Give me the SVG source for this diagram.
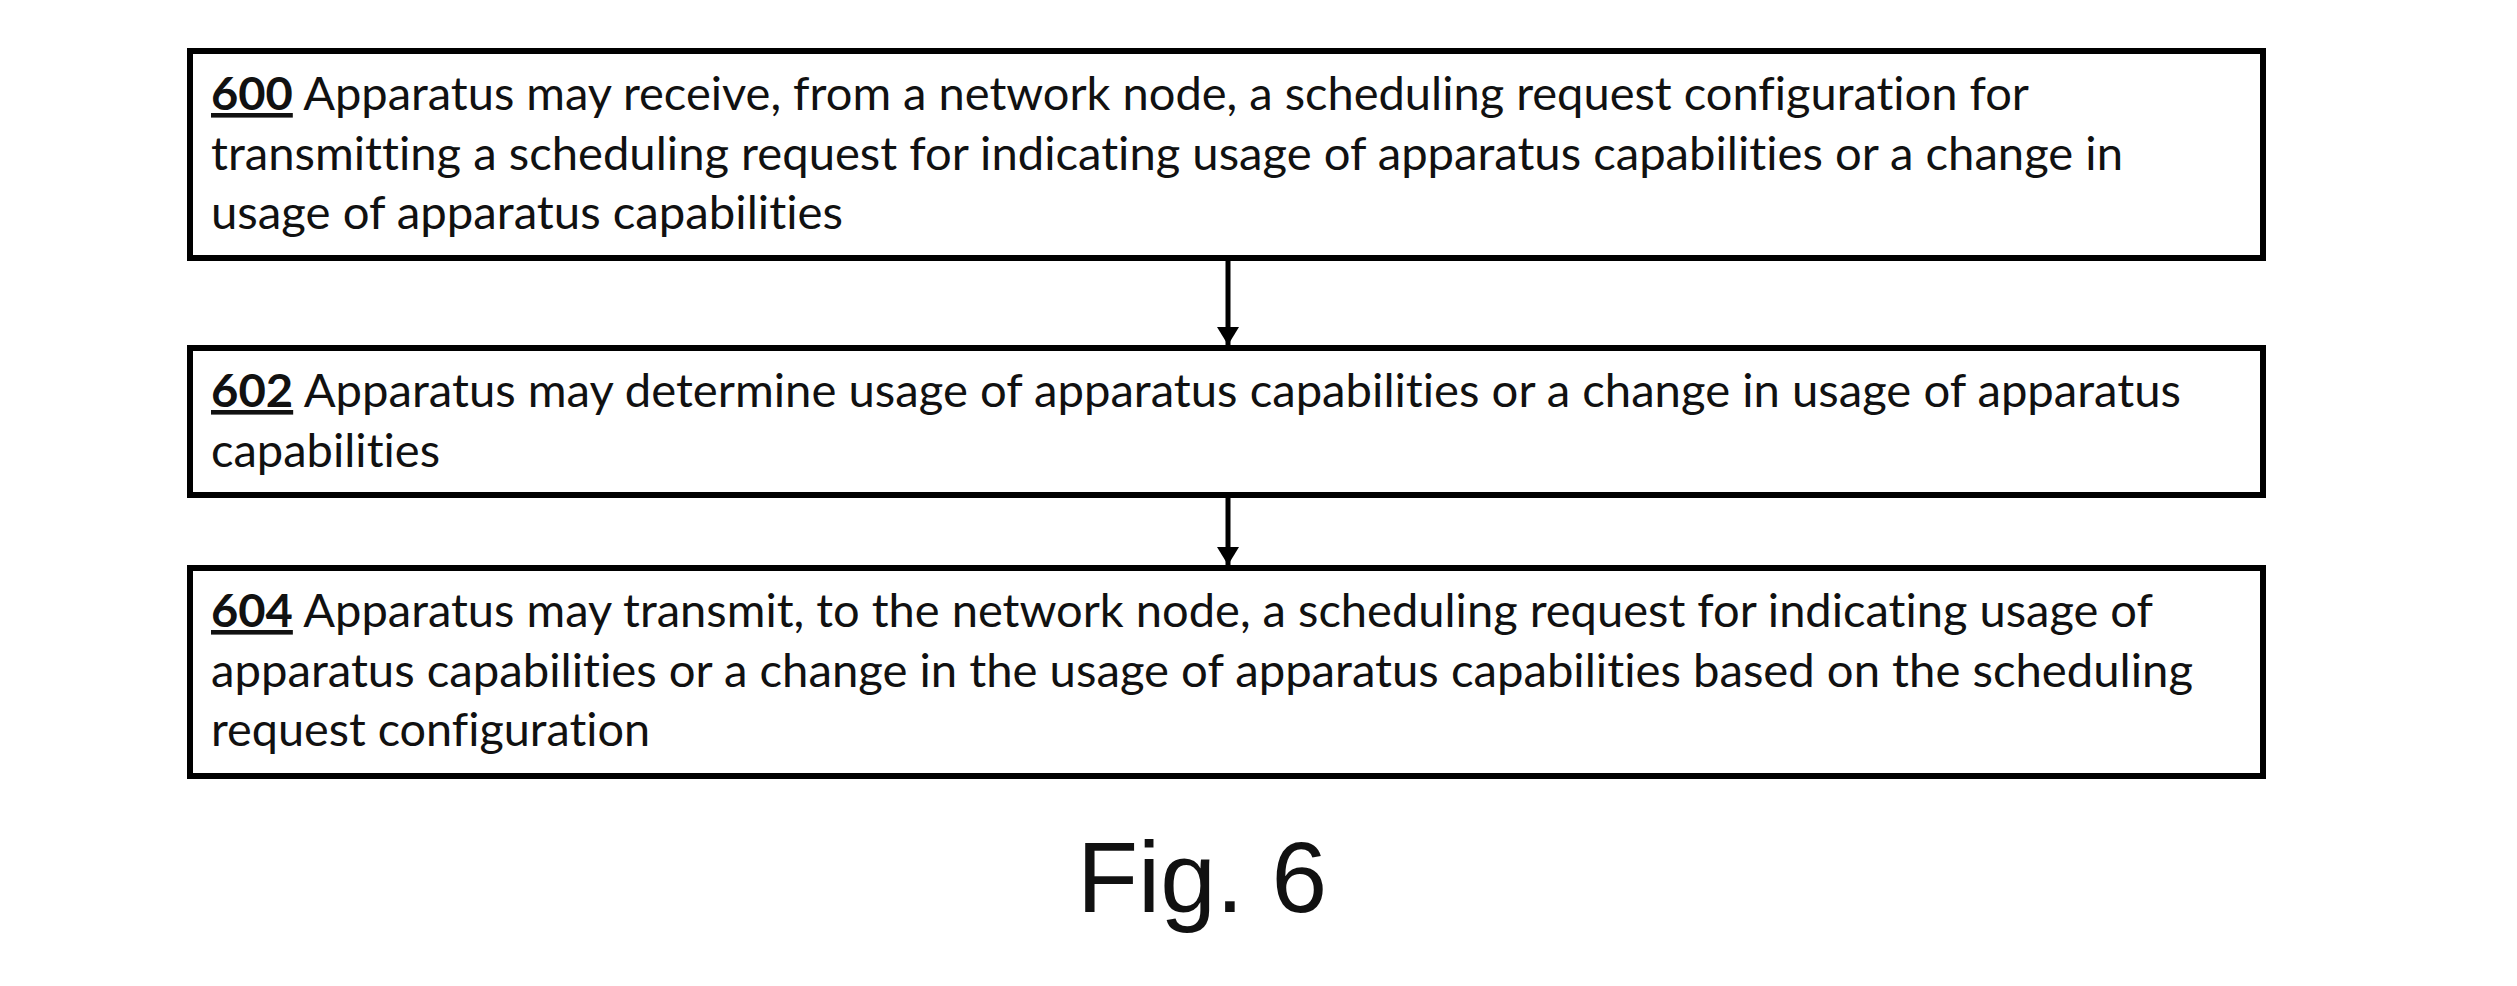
<svg xmlns="http://www.w3.org/2000/svg" width="2517" height="986" viewBox="0 0 2517 986">
  <style>
    .box { fill: #ffffff; stroke: #000000; stroke-width: 6; }
    .t { font-family: Lato, "Open Sans", "Liberation Sans", sans-serif; font-size: 46px; fill: #111111; font-variant-ligatures: none; }
    .num { font-weight: bold; text-decoration: underline; }
    .edge { stroke: #000000; stroke-width: 5; fill: none; }
    .fig { font-family: "Liberation Sans", Arial, sans-serif; font-size: 100px; fill: #111111; }
  </style>
  <defs>
    <marker id="arrow" markerUnits="userSpaceOnUse" markerWidth="20" markerHeight="22" refX="18" refY="11" orient="auto">
      <path d="M0,0 L18,11 L0,22 z" fill="#000000"/>
    </marker>
  </defs>
  <rect x="0" y="0" width="2517" height="986" fill="#ffffff"/>

  <g id="node-600">
    <rect class="box" x="190" y="51" width="2073" height="207"/>
    <text class="t" x="211" y="110" textLength="1818" lengthAdjust="spacingAndGlyphs"><tspan class="num">600</tspan> Apparatus may receive, from a network node, a scheduling request configuration for</text>
    <text class="t" x="211" y="170" textLength="1912" lengthAdjust="spacingAndGlyphs">transmitting a scheduling request for indicating usage of apparatus capabilities or a change in</text>
    <text class="t" x="211" y="229" textLength="632" lengthAdjust="spacingAndGlyphs">usage of apparatus capabilities</text>
  </g>

  <g id="node-602">
    <rect class="box" x="190" y="348" width="2073" height="147"/>
    <text class="t" x="211" y="407" textLength="1970" lengthAdjust="spacingAndGlyphs"><tspan class="num">602</tspan> Apparatus may determine usage of apparatus capabilities or a change in usage of apparatus</text>
    <text class="t" x="211" y="467" textLength="229" lengthAdjust="spacingAndGlyphs">capabilities</text>
  </g>

  <g id="node-604">
    <rect class="box" x="190" y="568" width="2073" height="208"/>
    <text class="t" x="211" y="627" textLength="1942" lengthAdjust="spacingAndGlyphs"><tspan class="num">604</tspan> Apparatus may transmit, to the network node, a scheduling request for indicating usage of</text>
    <text class="t" x="211" y="687" textLength="1982" lengthAdjust="spacingAndGlyphs">apparatus capabilities or a change in the usage of apparatus capabilities based on the scheduling</text>
    <text class="t" x="211" y="746" textLength="439" lengthAdjust="spacingAndGlyphs">request configuration</text>
  </g>

  <g id="connectors">
    <line class="edge" x1="1228" y1="261" x2="1228" y2="345" marker-end="url(#arrow)"/>
    <line class="edge" x1="1228" y1="498" x2="1228" y2="565" marker-end="url(#arrow)"/>
  </g>

  <g id="caption">
    <text class="fig" x="1077" y="912">Fig. 6</text>
  </g>
</svg>
